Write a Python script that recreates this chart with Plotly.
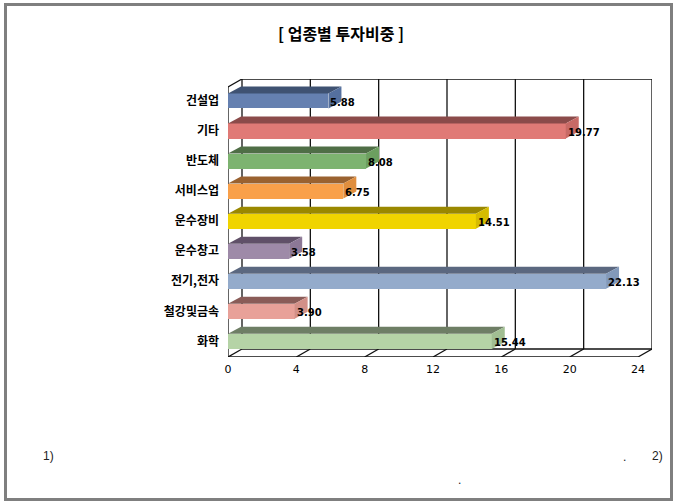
import plotly.graph_objects as go

# ---- data ----
categories = ["건설업", "기타", "반도체", "서비스업", "운수장비", "운수창고", "전기,전자", "철강및금속", "화학"]
values = [5.88, 19.77, 8.08, 6.75, 14.51, 3.58, 22.13, 3.90, 15.44]
x_ticks = [0, 4, 8, 12, 16, 20, 24]
title_text = "[ 업종별 투자비중 ]"

front_colors = ["#6580B0", "#E07A76", "#7DB370", "#F9A04A", "#F0D400", "#9E8AA8", "#94ABCB", "#E8A199", "#B5D3A6"]
top_colors = ["#3F5272", "#8B4B4A", "#4F6E46", "#9A6230", "#9A8800", "#605068", "#5B6880", "#8A5C58", "#6E7E65"]
side_colors = ["#55709E", "#C86A66", "#6C9F60", "#E08E3E", "#D6BC00", "#8C7896", "#8299BA", "#D29088", "#A0BE92"]

# ---- geometry (pixels) ----
W, H = 677, 504
L, R, T, B = 228, 652, 79, 357
XMAX = 24.82
Y_TOP, Y_BOT = -0.73, 8.52
px_per_x = (R - L) / XMAX
px_per_y = (B - T) / (Y_BOT - Y_TOP)
WALL_DX = 14 / px_per_x
WALL_DY = 8 / px_per_y
BAR_DX = 13 / px_per_x
BAR_DY = 7 / px_per_y
BW = 0.5


def px(xp):
    return (xp - L) / (R - L)


def py(yp):
    return (B - yp) / (B - T)


fig = go.Figure()
shapes = []
line_style = dict(color="#111111", width=1.3)

def seg(x0, y0, x1, y1):
    shapes.append(dict(type="line", xref="x", yref="y", x0=x0, y0=y0, x1=x1, y1=y1,
                       line=line_style, layer="below"))

yb_back = Y_BOT - WALL_DY
top_front = Y_TOP + WALL_DY
# back-wall grid lines and floor slants
for k in x_ticks:
    seg(k + WALL_DX, yb_back, k + WALL_DX, Y_TOP)
    seg(k, Y_BOT, k + WALL_DX, yb_back)
# walls' edges
seg(WALL_DX, Y_TOP, x_ticks[-1] + WALL_DX, Y_TOP)
seg(WALL_DX, yb_back, x_ticks[-1] + WALL_DX, yb_back)
seg(0, Y_BOT, x_ticks[-1], Y_BOT)
seg(0, Y_BOT, 0, top_front)
seg(0, top_front, WALL_DX, Y_TOP)

# bars: front faces
ys = list(range(len(categories)))
fig.add_trace(go.Bar(
    x=values, y=ys, orientation="h", width=BW,
    marker=dict(color=front_colors, line=dict(width=0)),
    hoverinfo="skip", showlegend=False))

# top and side faces
for i, v in enumerate(values):
    y_top = i - BW / 2
    y_bot = i + BW / 2
    fig.add_trace(go.Scatter(
        x=[0, v, v + BAR_DX, BAR_DX, 0],
        y=[y_top, y_top, y_top - BAR_DY, y_top - BAR_DY, y_top],
        fill="toself", fillcolor=top_colors[i], mode="lines", line=dict(width=0),
        hoverinfo="skip", showlegend=False))
    fig.add_trace(go.Scatter(
        x=[v, v + BAR_DX, v + BAR_DX, v, v],
        y=[y_top, y_top - BAR_DY, y_bot - BAR_DY, y_bot, y_top],
        fill="toself", fillcolor=side_colors[i], mode="lines", line=dict(width=0),
        hoverinfo="skip", showlegend=False))

annotations = []
for i, v in enumerate(values):
    annotations.append(dict(x=v, y=i + 0.05, xref="x", yref="y", text=f"{v:.2f}",
                            showarrow=False, xanchor="left", yanchor="middle", xshift=0,
                            font=dict(family="DejaVu Sans", size=10, color="#000000", weight="bold")))

annotations.append(dict(x=px(341), y=py(33), xref="paper", yref="paper", text=title_text,
                        showarrow=False, xanchor="center", yanchor="middle",
                        font=dict(family="Noto Sans CJK KR", size=16, color="#000000", weight="bold")))
foot_font = dict(family="Liberation Sans", size=12, color="#222222")
for xx, yy, tt in [(48, 456, "1)"), (624, 457, "."), (657, 456, "2)"), (459, 480, ".")]:
    annotations.append(dict(x=px(xx), y=py(yy), xref="paper", yref="paper", text=tt,
                            showarrow=False, xanchor="center", yanchor="middle", font=foot_font))

# outer gray frame
shapes.append(dict(type="rect", xref="paper", yref="paper",
                   x0=px(5.5), x1=px(671.5), y0=py(499.5), y1=py(4.5),
                   line=dict(color="#7F7F7F", width=3), fillcolor="rgba(0,0,0,0)", layer="above"))

fig.update_layout(
    width=W, height=H,
    margin=dict(l=L, r=W - R, t=T, b=H - B),
    paper_bgcolor="white", plot_bgcolor="white",
    shapes=shapes, annotations=annotations,
    bargap=0,
    xaxis=dict(range=[0, XMAX], tickvals=x_ticks, ticktext=[str(t) for t in x_ticks],
               showgrid=False, zeroline=False, showline=False, ticks="",
               tickfont=dict(family="DejaVu Sans", size=11, color="#000000"),
               ticklabelstandoff=4, fixedrange=True),
    yaxis=dict(range=[Y_BOT, Y_TOP], tickvals=ys, ticktext=categories,
               showgrid=False, zeroline=False, showline=False, ticks="",
               tickfont=dict(family="Noto Sans CJK KR", size=12, color="#000000", weight="bold"),
               ticklabelstandoff=8, fixedrange=True),
)

fig.write_html("out.html", config={"displayModeBar": False},
               post_script="document.body.style.margin='0';document.body.style.overflow='hidden';")
